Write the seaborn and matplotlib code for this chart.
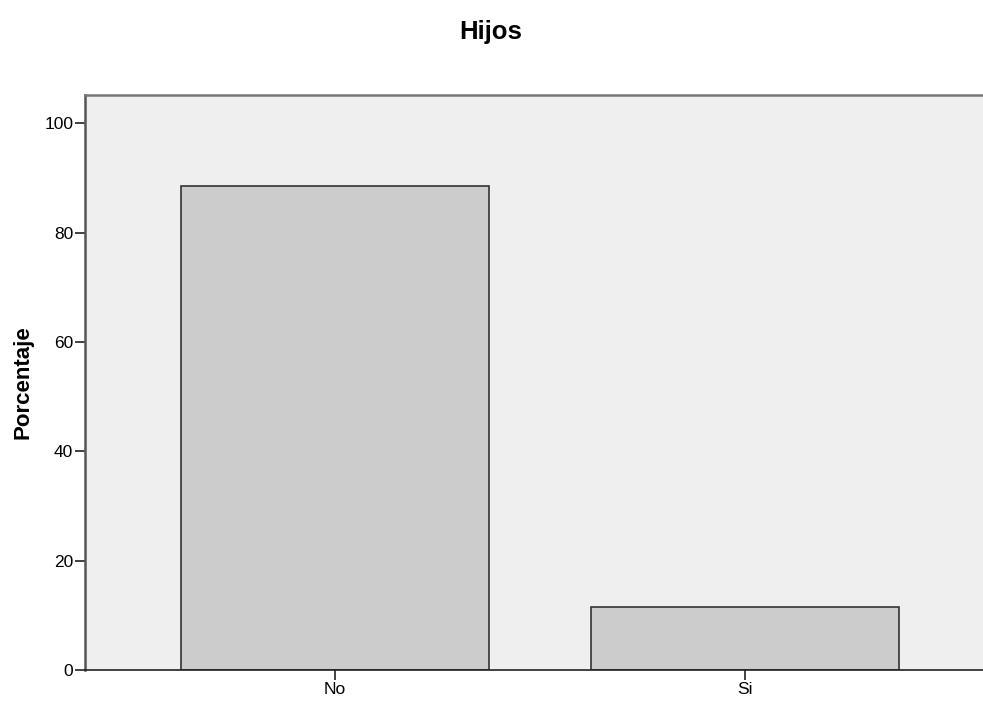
import matplotlib
matplotlib.use("Agg")
import matplotlib.pyplot as plt
import seaborn as sns
import pandas as pd

categories = ["No", "Si"]
percentages = [88.5, 11.5]
yticks = [0, 20, 40, 60, 80, 100]

sns.set_theme(style="white")
plt.rcParams['font.family'] = ['Liberation Sans', 'DejaVu Sans']
plt.rcParams['text.color'] = 'black'
plt.rcParams['axes.labelcolor'] = 'black'

fig = plt.figure(figsize=(9.83, 7.01), dpi=100)
ax = fig.add_axes([85/983, 31/701, (995-85)/983, (670-94.5)/701])
ax.set_facecolor("#EFEFEF")

df = pd.DataFrame({"Hijos": categories, "Porcentaje": percentages})
sns.barplot(data=df, x="Hijos", y="Porcentaje", color="#CCCCCC", saturation=1,
            edgecolor="#333333", linewidth=1.2, width=0.751, ax=ax)

ax.set_xlim(-0.61, 1.61)
ax.set_ylim(0, 105.3)
ax.set_yticks(yticks)
ax.set_yticklabels([str(t) for t in yticks])
ax.set_xlabel("")
ax.set_ylabel("Porcentaje", fontsize=16, fontweight="bold", labelpad=8, color="black")
ax.tick_params(axis="both", direction="out", length=7.5, width=1.2, colors="#222222",
               labelsize=12.5, labelcolor="black", pad=1, left=True, bottom=True)

for side in ["left", "bottom", "top"]:
    ax.spines[side].set_visible(True)
ax.spines["left"].set_color("#555555")
ax.spines["left"].set_linewidth(1.8)
ax.spines["top"].set_color("#777777")
ax.spines["top"].set_linewidth(1.8)
ax.spines["bottom"].set_color("#222222")
ax.spines["bottom"].set_linewidth(1.2)
ax.spines["right"].set_visible(False)

fig.text(491/983, 1 - 32/701, "Hijos", ha="center", va="center", fontsize=18.5,
         fontweight="bold", color="black")

fig.savefig("out.png", dpi=100)
